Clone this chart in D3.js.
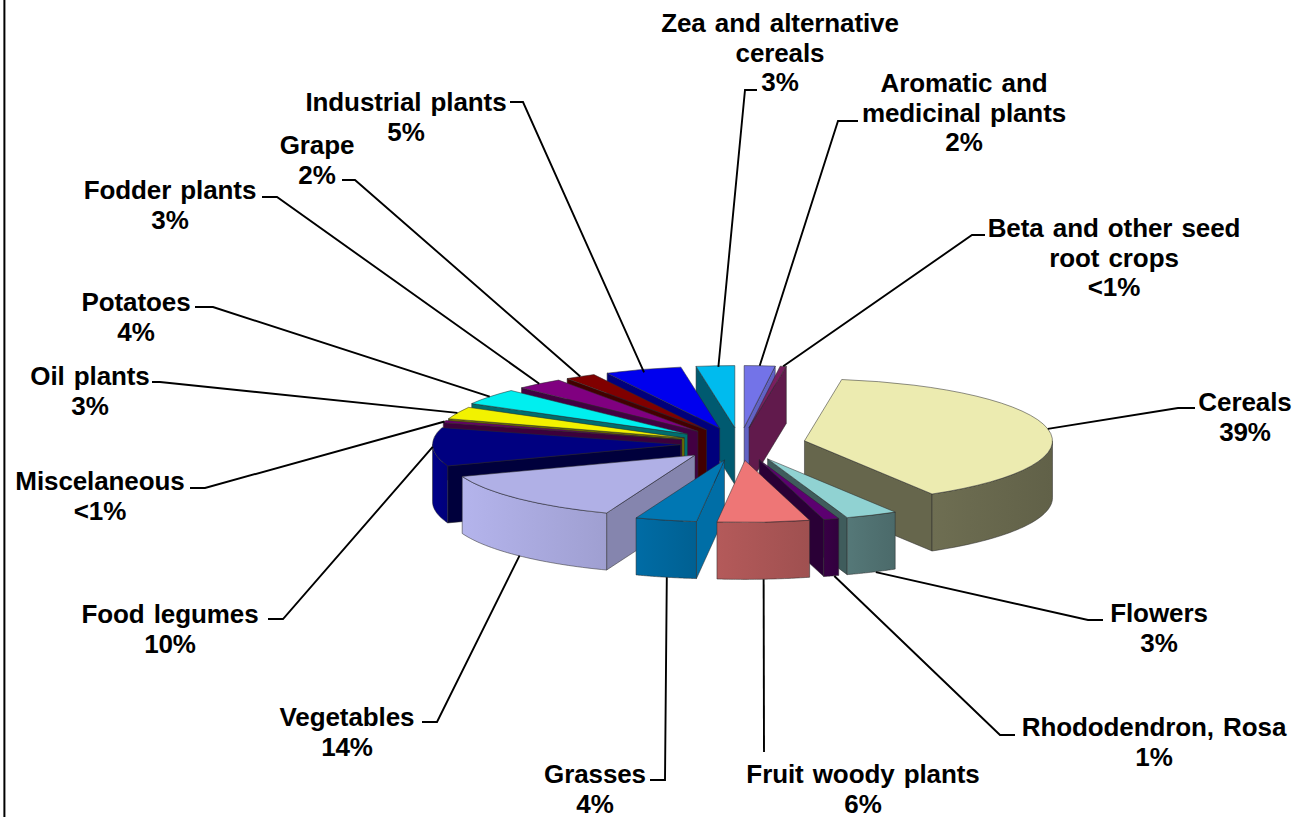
<!DOCTYPE html>
<html>
<head>
<meta charset="utf-8">
<script src="https://cdn.jsdelivr.net/npm/d3@7/dist/d3.min.js"></script>
<style>
html,body{margin:0;padding:0;background:#fff;overflow:hidden}
svg{display:block}
text{font-family:"Liberation Sans",Arial,sans-serif;font-weight:700;font-size:26px;fill:#000;word-spacing:2px;letter-spacing:-0.1px}
</style>
</head>
<body>
<svg id="chart" width="1295" height="817"></svg>
<script>
// ---- data ----
const categories = ["Aromatic and medicinal plants","Beta and other seed root crops","Cereals","Flowers","Rhododendron, Rosa","Fruit woody plants","Grasses","Vegetables","Food legumes","Miscelaneous","Oil plants","Potatoes","Fodder plants","Grape","Industrial plants","Zea and alternative cereals"];
const shares = [2,0.4,39,3.4,1,6,4,13.6,10,0.6,3.2,4.2,3.1,2,5,2.5];
const shareLabels = ["2%","<1%","39%","3%","1%","6%","4%","14%","10%","<1%","3%","4%","3%","2%","5%","3%"];

// ---- styles ----
const topColors  = ["#7373e8","#7a1f5f","#ecebb0","#90d2d2","#5c0070","#ee7676","#0077b3","#b0b0e6","#000080","#6a006a","#f2f200","#00efef","#800080","#800000","#0000ee","#00bbee"];
const sideColors = ["#6262c4","#611a4c","#66664c","#4f7070","#340040","#a85454","#00659a","#a8a8dc","#000080","#3c003c","#6e6e00","#006e6e","#420042","#420000","#00007c","#005a70"];
const radialColors=["#6262c4","#611a4c","#66664c","#3f5c5c","#2a0036","#a85454","#006ea6","#8585ae","#00003c","#3c003c","#6e6e00","#006e6e","#420042","#420000","#00007c","#005a70"];

// ---- label layout: text lines, line-centre x, first baseline, leader elbow, leader stub end ----
const labelLines = [["Aromatic and","medicinal plants","2%"],["Beta and other seed","root crops","<1%"],["Cereals","39%"],["Flowers","3%"],["Rhododendron, Rosa","1%"],["Fruit woody plants","6%"],["Grasses","4%"],["Vegetables","14%"],["Food legumes","10%"],["Miscelaneous","<1%"],["Oil plants","3%"],["Potatoes","4%"],["Fodder plants","3%"],["Grape","2%"],["Industrial plants","5%"],["Zea and alternative","cereals","3%"]];
const labelX = [964,1114,1245,1159,1154,863,595,347,170,100,90,136,170,317,406,780];
const labelY = [92,237,411,622,736,783,783,726,623,490,385,311,199,154,111,32];
const lineGap = 29.5;
const elbow = [[838,121],[972,235],[1178,408],[1088,620],[1000,735],[764,752],[665,780],[437,722],[283,619],[205,488],[160,382],[213,307],[277,197],[355,180],[523,102],[745,90]];
const stub  = [[858,121],[985,235],[1195,408],[1103,620],[1015,735],null,[650,780],[422,722],[268,619],[190,488],[152,382],[195,307],[262,197],[342,180],[510,102],[757,90]];
const attachNudge = [[0,0],[0,0],[0,0],[4,0],[3,0],[0,0],[1,0],[1,0],[0,0],[0,0],[0,0],[0,0],[0,0],[0,0],[1,3],[3,1]];

// ---- geometry ----
const cx = 740, cy = 444, rx = 248, tilt = 0.25, depth = 57;
const explode = [0.265,0.265,0.265,0.265,0.265,0.265,0.265,0.255,0.24,0.245,0.245,0.265,0.265,0.265,0.265,0.265];
const svg = d3.select("#chart");

// frame line on the left edge
svg.append("line").attr("x1",4.4).attr("x2",4.4).attr("y1",0).attr("y2",817).attr("stroke","#000").attr("stroke-width",2);

const pie = d3.pie().sort(null).startAngle(0).endAngle(2*Math.PI);
const arcs = pie(shares);
const arcTop = d3.arc().innerRadius(0).outerRadius(rx);

function project(a, r){ return [Math.sin(a)*r*rx, -Math.cos(a)*r*tilt*rx]; }

const slices = arcs.map((d,i)=>{
  const mid = (d.startAngle+d.endAngle)/2;
  const off = project(mid, explode[i]);
  return {i, a0:d.startAngle, a1:d.endAngle, mid, apex:[cx+off[0], cy+off[1]], arc:d};
});

const line = d3.line();
const order = slices.slice().sort((a,b)=>d3.descending(Math.cos(a.mid),Math.cos(b.mid)));
const defs = svg.append("defs");
const stroke = "#2a2a2a";

order.forEach(s=>{
  const g = svg.append("g").attr("transform",`translate(${s.apex[0]},${s.apex[1]})`);
  const sideStyle = (sel,fill)=>sel.attr("fill",fill).attr("stroke",stroke).attr("stroke-width",0.7).attr("stroke-opacity",0.75).attr("stroke-linejoin","round");
  // radial walls facing the viewer
  const wall = a=>{
    const p = project(a,1);
    return line([[0,0],p,[p[0],p[1]+depth],[0,depth]])+"Z";
  };
  if(Math.sin(s.a0) < -1e-6) sideStyle(g.append("path").attr("d",wall(s.a0)), radialColors[s.i]);
  if(Math.sin(s.a1) >  1e-6) sideStyle(g.append("path").attr("d",wall(s.a1)), radialColors[s.i]);
  // outer wall, front half only
  const lo = Math.max(s.a0, Math.PI/2), hi = Math.min(s.a1, 3*Math.PI/2);
  if(hi > lo){
    const steps = d3.range(0,41).map(k=>lo+(hi-lo)*k/40);
    const upper = steps.map(a=>project(a,1));
    const lower = upper.slice().reverse().map(p=>[p[0],p[1]+depth]);
    const gid = "wall"+s.i;
    const xs = d3.extent(upper,p=>p[0]);
    const base = d3.color(sideColors[s.i]);
    const grad = defs.append("linearGradient").attr("id",gid).attr("gradientUnits","userSpaceOnUse")
      .attr("x1",xs[0]).attr("x2",xs[1]).attr("y1",0).attr("y2",0);
    grad.append("stop").attr("offset",0).attr("stop-color",base.brighter(0.2).formatHex());
    grad.append("stop").attr("offset",1).attr("stop-color",base.darker(0.15).formatHex());
    sideStyle(g.append("path").attr("d",line(upper.concat(lower))+"Z"), `url(#${gid})`);
  }
  // top face
  g.append("path").attr("d",arcTop(s.arc)).attr("transform",`scale(1,${tilt})`)
    .attr("fill",topColors[s.i]).attr("stroke",stroke).attr("stroke-width",0.7).attr("stroke-opacity",0.75)
    .attr("vector-effect","non-scaling-stroke").attr("stroke-linejoin","round");
});

// leader lines
slices.forEach(s=>{
  const p = project(s.mid,1);
  const drop = Math.cos(s.mid) < -0.3 ? depth : 0;
  const start = [s.apex[0]+p[0]+attachNudge[s.i][0], s.apex[1]+p[1]+drop+attachNudge[s.i][1]];
  const pts = [start, elbow[s.i]];
  if(stub[s.i]) pts.push(stub[s.i]);
  svg.append("path").attr("d",line(pts)).attr("fill","none").attr("stroke","#000").attr("stroke-width",1.9);
});

// labels
categories.forEach((c,i)=>{
  const t = svg.append("text").attr("aria-label",c+" "+shareLabels[i]).attr("text-anchor","middle");
  labelLines[i].forEach((l,k)=>{
    t.append("tspan").attr("x",labelX[i]).attr("y",labelY[i]+k*lineGap).text(l);
  });
});
</script>
</body>
</html>
